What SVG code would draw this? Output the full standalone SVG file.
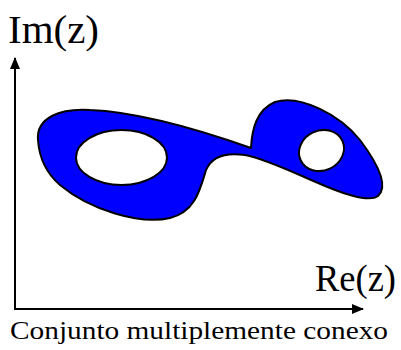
<svg xmlns="http://www.w3.org/2000/svg" width="401" height="350" viewBox="0 0 401 350">
<defs>
<style>
.ax{stroke:#000;stroke-width:2;fill:none}
.lbl{font-family:"Liberation Serif","Times New Roman",serif;fill:#000}
.blob{fill:#0000ff;stroke:#000;stroke-width:2;stroke-linejoin:round}
.hole{fill:#fff;stroke:#000;stroke-width:2}
</style>
<marker id="arr" viewBox="0 0 12 10" refX="11" refY="5" markerWidth="12" markerHeight="10" markerUnits="userSpaceOnUse" orient="auto">
<path d="M0,0 L12,5 L0,10 Z" fill="#000"/>
</marker>
</defs>
<rect width="401" height="350" fill="#fff"/>
<g id="axes">
<line class="ax" x1="15" y1="309" x2="15" y2="58" marker-end="url(#arr)"/>
<line class="ax" x1="14" y1="309" x2="363" y2="309" marker-end="url(#arr)"/>
</g>
<g id="set">
<path class="blob" d="M38,140 C36,118 60,108 90,110 C140,112 200,130 251,148 C252,130 256,110 275,102 C300,94 340,115 360,140 C375,160 390,185 378,196 C370,202 350,196 330,188 C300,176 270,160 245,155 C225,152 212,156 206,170 C200,190 195,212 170,218 C140,225 90,210 60,185 C45,172 39,155 38,140 Z"/>
<ellipse class="hole" cx="121.5" cy="157.5" rx="45.5" ry="27.5"/>
<ellipse class="hole" cx="321.5" cy="150.5" rx="23" ry="20" transform="rotate(-25 321.5 150.5)"/>
</g>
<g id="labels">
<text class="lbl" x="8" y="43" font-size="40" textLength="91" lengthAdjust="spacingAndGlyphs">Im(z)</text>
<text class="lbl" x="315" y="291" font-size="37" textLength="81" lengthAdjust="spacingAndGlyphs">Re(z)</text>
<text class="lbl" x="10" y="339" font-size="26" textLength="378" lengthAdjust="spacingAndGlyphs">Conjunto multiplemente conexo</text>
</g>
</svg>
